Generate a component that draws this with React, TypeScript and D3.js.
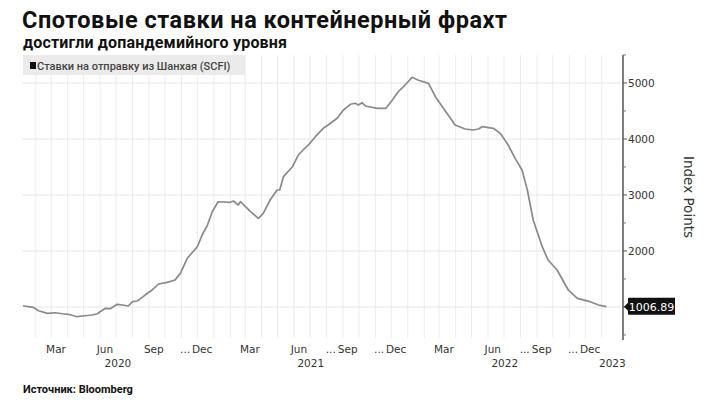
import { line, scaleLinear, scaleTime, timeMonth, timeYear, curveLinear } from "d3";
import type { ReactElement } from "react";

const W = 720;
const H = 405;

// SCFI weekly readings
const scfiDates = [
  "2020-01-08", "2020-01-27", "2020-02-06", "2020-02-23", "2020-03-09", "2020-03-22",
  "2020-04-02", "2020-04-19", "2020-04-29", "2020-05-17", "2020-05-27", "2020-06-01",
  "2020-06-11", "2020-06-20", "2020-07-03", "2020-07-13", "2020-07-24", "2020-08-01",
  "2020-08-10", "2020-08-19", "2020-08-29", "2020-09-07", "2020-09-19", "2020-10-05",
  "2020-10-20", "2020-10-30", "2020-11-12", "2020-12-01", "2020-12-10", "2020-12-20",
  "2020-12-29", "2021-01-09", "2021-02-01", "2021-02-07", "2021-02-16", "2021-02-20",
  "2021-03-05", "2021-03-11", "2021-03-26", "2021-04-04", "2021-04-17", "2021-04-30",
  "2021-05-05", "2021-05-12", "2021-05-29", "2021-06-09", "2021-06-18", "2021-06-28",
  "2021-07-11", "2021-07-26", "2021-08-04", "2021-08-21", "2021-09-02", "2021-09-15",
  "2021-09-24", "2021-09-30", "2021-10-07", "2021-10-13", "2021-11-05", "2021-11-21",
  "2021-12-03", "2021-12-14", "2021-12-27", "2022-01-09", "2022-01-21", "2022-02-09",
  "2022-02-22", "2022-03-07", "2022-03-18", "2022-03-31", "2022-04-19", "2022-05-04",
  "2022-05-14", "2022-05-21", "2022-06-11", "2022-06-24", "2022-07-09", "2022-07-22",
  "2022-08-04", "2022-08-14", "2022-08-25", "2022-09-11", "2022-09-22", "2022-10-09",
  "2022-10-30", "2022-11-16", "2022-12-10", "2022-12-26", "2023-01-10",
];

const scfiValues = [
  1023, 995, 934, 887, 898, 880,
  870, 827, 839, 857, 880, 916,
  977, 970, 1048, 1036, 1018, 1095,
  1107, 1173, 1245, 1304, 1411, 1441,
  1482, 1601, 1870, 2077, 2286, 2464,
  2702, 2880, 2870, 2893, 2821, 2880,
  2762, 2702, 2584, 2673, 2911, 3089,
  3089, 3327, 3505, 3714, 3804, 3893,
  4041, 4191, 4250, 4370, 4518, 4620,
  4638, 4607, 4648, 4589, 4548, 4548,
  4696, 4845, 4964, 5101, 5050, 4994,
  4756, 4577, 4429, 4250, 4179, 4161,
  4179, 4220, 4191, 4101, 3893, 3655,
  3446, 3089, 2554, 2077, 1839, 1661,
  1304, 1155, 1095, 1036, 1006.89,
];

const monthLabels = [
  { month: "2020-03-01", text: "Mar", dots: false },
  { month: "2020-06-01", text: "Jun", dots: false },
  { month: "2020-09-01", text: "Sep", dots: false },
  { month: "2020-12-01", text: "Dec", dots: true },
  { month: "2021-03-01", text: "Mar", dots: false },
  { month: "2021-06-01", text: "Jun", dots: false },
  { month: "2021-09-01", text: "Sep", dots: true },
  { month: "2021-12-01", text: "Dec", dots: true },
  { month: "2022-03-01", text: "Mar", dots: false },
  { month: "2022-06-01", text: "Jun", dots: false },
  { month: "2022-09-01", text: "Sep", dots: true },
  { month: "2022-12-01", text: "Dec", dots: true },
];

const yearLabels = ["2020", "2021", "2022", "2023"];
const yMajorTicks = [1000, 2000, 3000, 4000, 5000];
const yMinorTicks = [500, 1500, 2500, 3500, 4500, 5500];

const TITLE = "Спотовые ставки на контейнерный фрахт";
const SUBTITLE = "достигли допандемийного уровня";
const LEGEND = "Ставки на отправку из Шанхая (SCFI)";
const SOURCE = "Источник: Bloomberg";
const Y_TITLE = "Index Points";

const PLOT_L = 22;
const PLOT_R = 623;
const PLOT_T = 55;
const PLOT_B = 340;

const TICK_FONT = "'DejaVu Sans', sans-serif";
const TEXT_FONT = "Roboto, 'Noto Sans', sans-serif";

const parse = (s: string): Date => {
  const [y, m, d] = s.split("-").map(Number);
  return new Date(y, m - 1, d);
};

export default function App(): ReactElement {
  const x = scaleTime()
    .domain([parse("2020-01-06"), parse("2023-02-10")])
    .range([PLOT_L, PLOT_R]);
  const y = scaleLinear().domain([411, 5500]).range([PLOT_B, PLOT_T]);

  const points = scfiDates.map((d, i) => ({ date: parse(d), value: scfiValues[i] }));
  const path = line<{ date: Date; value: number }>()
    .x((d) => x(d.date))
    .y((d) => y(d.value))
    .curve(curveLinear)(points) ?? "";

  const gridMonths = timeMonth.range(parse("2020-02-01"), parse("2023-01-02"));
  const [x0, x1] = x.domain();

  const last = points[points.length - 1];
  const ly = y(last.value);

  return (
    <div style={{ position: "absolute", left: 0, top: 0 }}>
      <svg width={W} height={H} viewBox={`0 0 ${W} ${H}`} style={{ display: "block", background: "#fff" }}>
        <rect x={0} y={0} width={W} height={H} fill="#fff" />

        {/* grid */}
        {gridMonths.map((m) => (
          <line key={m.toISOString()} x1={x(m)} x2={x(m)} y1={PLOT_T} y2={PLOT_B - 2} stroke="#ececec" strokeWidth={1} />
        ))}
        {yMajorTicks.map((t) => (
          <line key={t} x1={PLOT_L} x2={PLOT_R - 3} y1={y(t)} y2={y(t)} stroke="#e6e6e6" strokeWidth={1} />
        ))}

        {/* legend */}
        <rect x={23} y={55} width={222} height={20} fill="#ebebeb" />
        <rect x={30} y={62} width={6} height={7} fill="#111" />
        <text x={37} y={70} fontFamily={TEXT_FONT} fontSize={11} fontWeight={500} fill="#444">
          {LEGEND}
        </text>

        {/* series */}
        <path d={path} fill="none" stroke="#8a8a8a" strokeWidth={1.7} strokeLinejoin="round" />

        {/* y axis */}
        <line x1={PLOT_R} x2={PLOT_R} y1={PLOT_T} y2={PLOT_B} stroke="#555" strokeWidth={1.5} />
        {yMinorTicks.map((t) => (
          <line key={t} x1={PLOT_R} x2={PLOT_R + 3} y1={y(t)} y2={y(t)} stroke="#777" strokeWidth={1} />
        ))}
        {yMajorTicks.map((t) => (
          <g key={t}>
            <line x1={PLOT_R} x2={PLOT_R + 4} y1={y(t)} y2={y(t)} stroke="#555" strokeWidth={1} />
            {/* the 1000 label sits under the last-value tag, as in the source */}
            {t !== 1000 && (
              <text x={PLOT_R + 5} y={y(t) + 4} fontFamily={TICK_FONT} fontSize={10.5} fill="#333">
                {t}
              </text>
            )}
          </g>
        ))}
        <text
          transform={`translate(684, 197) rotate(90)`}
          textAnchor="middle"
          fontFamily={TICK_FONT}
          fontSize={13.5}
          fill="#333"
        >
          {Y_TITLE}
        </text>

        {/* last value tag */}
        <path
          d={`M${PLOT_R + 1},${ly} L${PLOT_R + 5},${ly - 4} L${PLOT_R + 5},${ly - 8} Q${PLOT_R + 5},${ly - 9} ${PLOT_R + 6},${ly - 9} L${PLOT_R + 52},${ly - 9} L${PLOT_R + 52},${ly + 8} L${PLOT_R + 6},${ly + 8} Q${PLOT_R + 5},${ly + 8} ${PLOT_R + 5},${ly + 7} L${PLOT_R + 5},${ly + 4} Z`}
          fill="#111"
        />
        <text x={PLOT_R + 28.5} y={ly + 4} textAnchor="middle" fontFamily={TICK_FONT} fontSize={11} fill="#fff">
          {last.value.toFixed(2)}
        </text>

        {/* x axis labels */}
        {monthLabels.map((m) => {
          const start = parse(m.month);
          const cx = x(new Date(start.getFullYear(), start.getMonth(), 10));
          return (
            <g key={m.month}>
              <text x={cx} y={353} textAnchor="middle" fontFamily={TICK_FONT} fontSize={10.5} fill="#333">
                {m.text}
              </text>
              {m.dots && (
                <text x={cx - 12} y={353} textAnchor="end" fontFamily={TICK_FONT} fontSize={10.5} fill="#333">
                  ...
                </text>
              )}
            </g>
          );
        })}
        {yearLabels.map((yr) => {
          const s = timeYear.floor(parse(`${yr}-01-01`));
          const e = timeYear.offset(s, 1);
          const a = x(s < x0 ? x0 : s);
          const b = x(e > x1 ? x1 : e);
          return (
            <text key={yr} x={(a + b) / 2} y={367} textAnchor="middle" fontFamily={TICK_FONT} fontSize={10.5} fill="#333">
              {yr}
            </text>
          );
        })}

        {/* titles */}
        <text
          x={22}
          y={28}
          fontFamily={TEXT_FONT}
          fontSize={23.5}
          fontWeight={700}
          fill="#111"
          textLength={485}
          lengthAdjust="spacing"
        >
          {TITLE}
        </text>
        <text
          x={23}
          y={48}
          fontFamily={TEXT_FONT}
          fontSize={16}
          fontWeight={700}
          fill="#111"
          textLength={264}
          lengthAdjust="spacing"
        >
          {SUBTITLE}
        </text>
        <text x={23} y={393} fontFamily={TEXT_FONT} fontSize={11} fontWeight={700} fill="#111">
          {SOURCE}
        </text>
      </svg>
    </div>
  );
}
